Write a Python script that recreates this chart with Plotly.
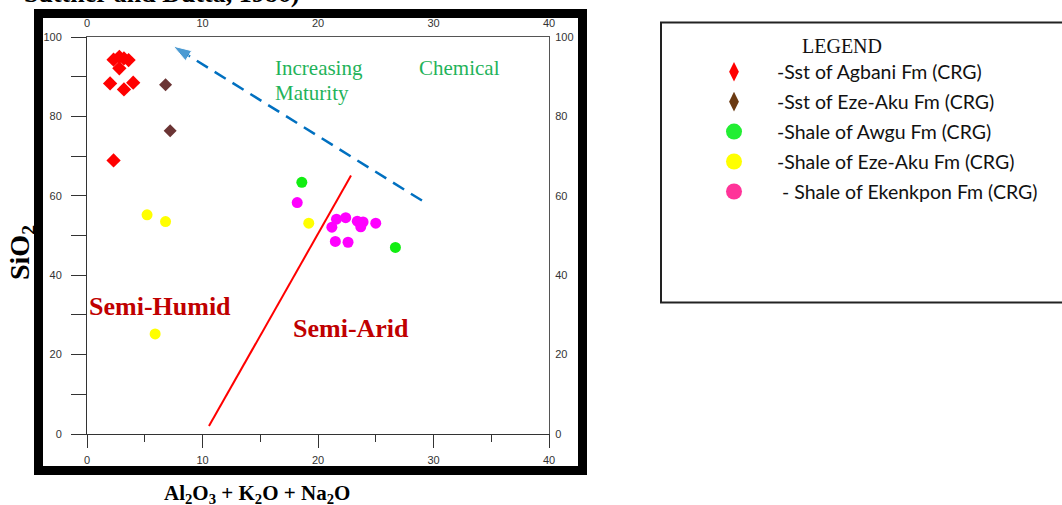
import plotly.graph_objects as go

# ---------------- data ----------------
agbani_x = [2.3, 2.8, 3.2, 3.6, 2.8, 2.0, 3.2, 4.0, 2.3]
agbani_y = [94.3, 95.0, 94.6, 94.2, 92.1, 88.3, 86.8, 88.5, 68.9]

ezeaku_sst_x = [6.8, 7.2]
ezeaku_sst_y = [88.0, 76.4]

awgu_x = [18.6, 26.7]
awgu_y = [63.4, 47.0]

ezeaku_sh_x = [5.2, 6.8, 5.9, 19.2]
ezeaku_sh_y = [55.2, 53.5, 25.2, 53.1]

ekenkpon_x = [18.2, 21.6, 22.4, 21.2, 23.4, 23.9, 23.7, 25.0, 21.5, 22.6]
ekenkpon_y = [58.3, 54.1, 54.5, 52.1, 53.6, 53.4, 52.2, 53.1, 48.5, 48.3]

boundary_x = [10.56, 22.86]
boundary_y = [2.0, 65.1]

arrow_x = [29.0, 7.47]
arrow_y = [58.8, 97.7]

legend_names = ["-Sst of Agbani Fm (CRG)", "-Sst of Eze-Aku Fm (CRG)",
                "-Shale of Awgu Fm (CRG)", "-Shale of Eze-Aku Fm (CRG)",
                " - Shale of Ekenkpon Fm (CRG)"]
legend_colors = ["#ff0000", "#6b3a12", "#22ee33", "#ffff00", "#ff3399"]
legend_symbols = ["diamond-tall", "diamond-tall", "circle", "circle", "circle"]

x_ticks = [0, 10, 20, 30, 40]
y_ticks = [0, 20, 40, 60, 80, 100]

# ---------------- geometry helpers (pixel -> paper) ----------------
L, R, T, B = 87, 549, 37, 434
def px(x):
    return (x - L) / (R - L)
def py(y):
    return (B - y) / (B - T)

fig = go.Figure()

fig.add_trace(go.Scatter(x=boundary_x, y=boundary_y, mode="lines",
                         line=dict(color="#ff0000", width=2), showlegend=False, hoverinfo="skip"))
fig.add_trace(go.Scatter(x=arrow_x, y=arrow_y, mode="lines+markers",
                         line=dict(color="#0070c0", width=2.5, dash="13px,8px"),
                         marker=dict(symbol="arrow", size=[0, 19], angleref="previous", color="#0070c0"),
                         showlegend=False, hoverinfo="skip"))

series = [
    (agbani_x, agbani_y, "#ff0000", "diamond", 11),
    (ezeaku_sst_x, ezeaku_sst_y, "#6b3434", "diamond", 10),
    (awgu_x, awgu_y, "#11ee11", "circle", 11),
    (ezeaku_sh_x, ezeaku_sh_y, "#ffff00", "circle", 11),
    (ekenkpon_x, ekenkpon_y, "#ff00ff", "circle", 11),
]
for xs, ys, c, s, sz in series:
    fig.add_trace(go.Scatter(x=xs, y=ys, mode="markers",
                             marker=dict(color=c, symbol=s, size=sz, line=dict(width=0)),
                             showlegend=False))

for i, (n, c, s) in enumerate(zip(legend_names, legend_colors, legend_symbols)):
    fig.add_trace(go.Scatter(x=[None], y=[None], mode="markers", name=n,
                             legendgroup="g%d" % i,
                             marker=dict(color=c, symbol=s, size=16 if s == "circle" else 14)))

axis_font = dict(family="Liberation Sans, Arial", size=11, color="#333")
fig.update_layout(
    width=1062, height=505, autosize=False,
    margin=dict(l=L, r=1062 - R, t=T, b=505 - B, pad=0),
    plot_bgcolor="white", paper_bgcolor="white",
    showlegend=True,
    legend=dict(x=px(691), y=py(52.5), xanchor="left", yanchor="top",
                font=dict(family="Lato, Open Sans", size=19.5, color="#111"),
                itemwidth=76, tracegroupgap=1.6, bgcolor="rgba(0,0,0,0)",
                itemsizing="trace"),
    xaxis=dict(range=[0, 40], tickvals=x_ticks, ticks="outside", ticklen=13,
               tickcolor="#333", showline=True, linecolor="#333", linewidth=1,
               showgrid=False, zeroline=False, tickfont=axis_font, ticklabelstandoff=3,
               minor=dict(dtick=5, ticks="outside", ticklen=7, tickcolor="#333")),
    yaxis=dict(range=[0, 100], tickvals=y_ticks, ticks="outside", ticklen=15,
               tickcolor="#333", showline=True, linecolor="#333", linewidth=1,
               showgrid=False, zeroline=False, tickfont=axis_font, ticklabelstandoff=7,
               minor=dict(dtick=10, ticks="outside", ticklen=15, tickcolor="#333")),
    xaxis2=dict(range=[0, 40], tickvals=x_ticks, overlaying="x", side="top", anchor="y",
                ticks="", showline=True, linecolor="#555", linewidth=1, ticklabelstandoff=5,
                showgrid=False, zeroline=False, tickfont=axis_font),
    yaxis2=dict(range=[0, 100], tickvals=y_ticks, overlaying="y", side="right", anchor="x",
                ticks="", showline=True, linecolor="#555", linewidth=1, ticklabelstandoff=3,
                showgrid=False, zeroline=False, tickfont=axis_font),
)
fig.add_trace(go.Scatter(x=[None], y=[None], xaxis="x2", yaxis="y2", showlegend=False))

serif = "Liberation Serif, Times New Roman"
shapes = [
    dict(type="rect", xref="paper", yref="paper", x0=px(38.5), x1=px(582.5),
         y0=py(470.5), y1=py(13.5), line=dict(color="black", width=9), layer="below"),
    dict(type="rect", xref="paper", yref="paper", x0=px(661), x1=px(1075),
         y0=py(302.5), y1=py(22.5), line=dict(color="#222", width=2), layer="below"),
]
fig.update_layout(shapes=shapes)

ann = [
    dict(text="<b>Suttner and Dutta, 1986)</b>", xref="paper", yref="paper",
         x=px(22), y=py(10), xanchor="left", yanchor="bottom",
         font=dict(family=serif, size=26, color="black")),
    dict(text="<b>SiO<sub>2</sub></b>", xref="paper", yref="paper", x=px(22), y=py(253),
         textangle=-90, font=dict(family=serif, size=28, color="black")),
    dict(text="<b>Al<sub>2</sub>O<sub>3</sub> + K<sub>2</sub>O + Na<sub>2</sub>O</b>",
         xref="paper", yref="paper", x=px(257), y=py(494),
         font=dict(family=serif, size=21, color="black")),
    dict(text="<b>Semi-Humid</b>", xref="x", yref="y", x=6.36, y=32.2,
         font=dict(family=serif, size=26, color="#c00000")),
    dict(text="<b>Semi-Arid</b>", xref="x", yref="y", x=22.86, y=26.6,
         font=dict(family=serif, size=26, color="#c00000")),
    dict(text="Increasing", xref="x", yref="y", x=16.1, y=92.2, xanchor="left",
         font=dict(family=serif, size=21, color="#1fb35a")),
    dict(text="Maturity", xref="x", yref="y", x=16.1, y=85.9, xanchor="left",
         font=dict(family=serif, size=21, color="#1fb35a")),
    dict(text="Chemical", xref="x", yref="y", x=28.57, y=92.2, xanchor="left",
         font=dict(family=serif, size=21, color="#1fb35a")),
    dict(text="LEGEND", xref="paper", yref="paper", x=px(842), y=py(46),
         font=dict(family=serif, size=20, color="#111")),
]
for a in ann:
    a.setdefault("showarrow", False)
    a.setdefault("xanchor", "center")
    a.setdefault("yanchor", "middle")
    fig.add_annotation(**a)

fig.write_html("out.html", config={"displayModeBar": False},
               post_script="document.body.style.margin='0';")
